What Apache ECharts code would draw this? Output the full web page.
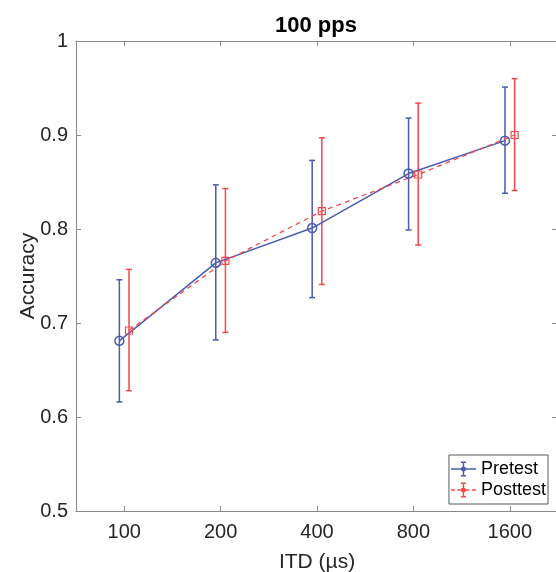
<!DOCTYPE html>
<html>
<head>
<meta charset="utf-8">
<script src="https://cdn.jsdelivr.net/npm/echarts@6/dist/echarts.min.js"></script>
<style>
html,body{margin:0;padding:0;background:#fff;overflow:hidden;}
#chart{width:556px;height:572px;}
</style>
</head>
<body>
<div id="chart"></div>
<script>
// ---- data ----
const categories = ['100', '200', '400', '800', '1600'];
const pretestMean  = [0.681, 0.764, 0.801, 0.859, 0.894];
const pretestLower = [0.616, 0.682, 0.727, 0.799, 0.838];
const pretestUpper = [0.746, 0.847, 0.873, 0.918, 0.951];
const posttestMean  = [0.692, 0.766, 0.819, 0.858, 0.900];
const posttestLower = [0.628, 0.690, 0.741, 0.783, 0.841];
const posttestUpper = [0.757, 0.843, 0.897, 0.934, 0.960];
const yTicks = [0.5, 0.6, 0.7, 0.8, 0.9, 1];

const BLUE = '#4A5BB2';
const RED = '#F5484C';
const AXIS = '#8a8a8a';
const TXT = '#262626';
const FONT = 'Liberation Sans, Arial, Helvetica, sans-serif';
const OFF = 0.05; // horizontal dodge of the two groups (category units)

function pts(mean, shift) { return mean.map((v, i) => [i + 1 + shift, v]); }
function bars(lo, hi, shift) { return lo.map((v, i) => [i + 1 + shift, v, hi[i]]); }

function errRender(color) {
  return function (params, api) {
    const x = api.value(0);
    const a = api.coord([x, api.value(1)]);
    const b = api.coord([x, api.value(2)]);
    const w = 3;
    const st = { stroke: color, lineWidth: 1.5 };
    return {
      type: 'group',
      children: [
        { type: 'line', shape: { x1: a[0], y1: a[1], x2: b[0], y2: b[1] }, style: st },
        { type: 'line', shape: { x1: a[0] - w, y1: a[1], x2: a[0] + w, y2: a[1] }, style: st },
        { type: 'line', shape: { x1: b[0] - w, y1: b[1], x2: b[0] + w, y2: b[1] }, style: st }
      ]
    };
  };
}

const preIcon = 'path://M0 6.75h25v1.5h-25z M11.75 0h1.5v15h-1.5z M10 0h5v1.5h-5z M10 13.5h5v1.5h-5z M15 7.5a2.5 2.5 0 1 1 -5 0a2.5 2.5 0 1 1 5 0z';
const postIcon = 'path://M0 6.75h4v1.5h-4z M6.5 6.75h3.5v1.5h-3.5z M15 6.75h3.5v1.5h-3.5z M21 6.75h4v1.5h-4z M11.75 0h1.5v15h-1.5z M10 0h5v1.5h-5z M10 13.5h5v1.5h-5z M15 7.5a2.5 2.5 0 1 1 -5 0a2.5 2.5 0 1 1 5 0z';

const chart = echarts.init(document.getElementById('chart'), null, { renderer: 'canvas' });
const option = {
  animation: false,
  backgroundColor: '#fff',
  textStyle: { fontFamily: FONT },
  title: {
    text: '100 pps',
    left: 311, top: 10, textAlign: 'center',
    textStyle: { fontFamily: FONT, fontSize: 22, fontWeight: 'bold', color: '#000' }
  },
  grid: { left: 76, top: 41, width: 482, height: 470, containLabel: false, outerBoundsMode: 'none', show: false },
  legend: {
    orient: 'vertical', right: 8, top: 455,
    itemWidth: 25, itemHeight: 15, itemGap: 3,
    padding: [5, 2, 5, 2],
    borderColor: '#5a5a5a', borderWidth: 1, backgroundColor: '#fff',
    textStyle: { fontFamily: FONT, fontSize: 18, color: '#000' },
    data: [
      { name: 'Pretest', icon: preIcon, itemStyle: { color: BLUE, borderWidth: 0 } },
      { name: 'Posttest', icon: postIcon, itemStyle: { color: RED, borderWidth: 0 } }
    ]
  },
  xAxis: [
    {
      type: 'category', data: categories, position: 'bottom', boundaryGap: true,
      name: 'ITD (µs)', nameLocation: 'middle', nameGap: 41, nameMoveOverlap: false,
      nameTextStyle: { fontFamily: FONT, fontSize: 21, color: TXT },
      axisLine: { show: true, lineStyle: { color: AXIS, width: 1 } },
      axisTick: { show: true, inside: true, length: 5, alignWithLabel: true, lineStyle: { color: AXIS } },
      axisLabel: { fontFamily: FONT, fontSize: 20, color: TXT, margin: 11 },
      splitLine: { show: false }
    },
    {
      type: 'category', data: categories, position: 'top', boundaryGap: true,
      axisLine: { show: true, lineStyle: { color: AXIS, width: 1 } },
      axisTick: { show: true, inside: true, length: 5, alignWithLabel: true, lineStyle: { color: AXIS } },
      axisLabel: { show: false },
      splitLine: { show: false }
    },
    { type: 'value', min: 0.5, max: 5.5, show: false, splitLine: { show: false } }
  ],
  yAxis: [
    {
      type: 'value', min: 0.5, max: 1, interval: 0.1, position: 'left',
      name: 'Accuracy', nameLocation: 'middle', nameGap: 37, nameRotate: 90, nameMoveOverlap: false,
      nameTextStyle: { fontFamily: FONT, fontSize: 21, color: TXT },
      axisLine: { show: true, lineStyle: { color: AXIS, width: 1 } },
      axisTick: { show: true, inside: true, length: 5, lineStyle: { color: AXIS } },
      axisLabel: {
        fontFamily: FONT, fontSize: 20, color: TXT, margin: 8,
        formatter: v => String(Math.round(v * 10) / 10)
      },
      splitLine: { show: false }
    },
    {
      type: 'value', min: 0.5, max: 1, interval: 0.1, position: 'right',
      axisLine: { show: false },
      axisTick: { show: true, inside: true, length: 6, lineStyle: { color: AXIS } },
      axisLabel: { show: false },
      splitLine: { show: false }
    }
  ],
  series: [
    {
      name: 'Pretest', type: 'custom', xAxisIndex: 2, yAxisIndex: 0,
      renderItem: errRender(BLUE), data: bars(pretestLower, pretestUpper, -OFF),
      encode: { x: 0, y: [1, 2] }, silent: true
    },
    {
      name: 'Pretest', type: 'line', xAxisIndex: 2, yAxisIndex: 0,
      data: pts(pretestMean, -OFF),
      symbol: 'circle', symbolSize: 9,
      itemStyle: { color: 'rgba(0,0,0,0)', borderColor: BLUE, borderWidth: 1.5 },
      lineStyle: { color: BLUE, width: 1.5 },
      color: BLUE
    },
    {
      name: 'Posttest', type: 'custom', xAxisIndex: 2, yAxisIndex: 0,
      renderItem: errRender(RED), data: bars(posttestLower, posttestUpper, OFF),
      encode: { x: 0, y: [1, 2] }, silent: true
    },
    {
      name: 'Posttest', type: 'line', xAxisIndex: 2, yAxisIndex: 0,
      data: pts(posttestMean, OFF),
      symbol: 'rect', symbolSize: 7,
      itemStyle: { color: 'rgba(0,0,0,0)', borderColor: RED, borderWidth: 1.2 },
      lineStyle: { color: RED, width: 1.3, type: [5, 4] },
      color: RED
    }
  ]
};
chart.setOption(option);
</script>
</body>
</html>
